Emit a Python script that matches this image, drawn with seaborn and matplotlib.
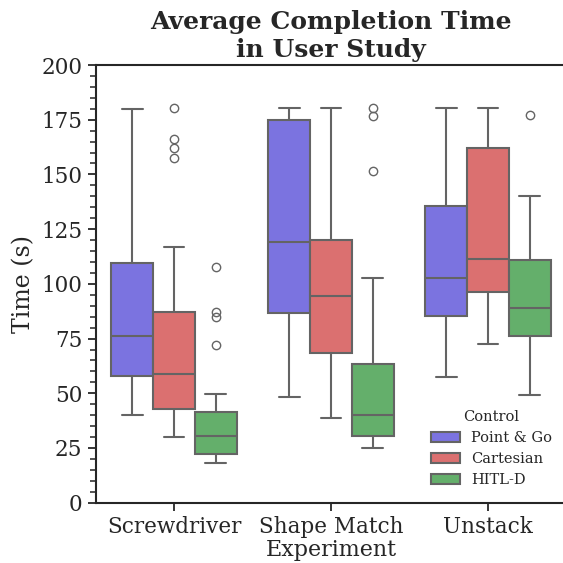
import matplotlib
matplotlib.use("Agg")
import matplotlib.pyplot as plt
from matplotlib.ticker import MultipleLocator
import pandas as pd
import seaborn as sns

experiments = ["Screwdriver", "Shape Match", "Unstack"]
controls = ["Point & Go", "Cartesian", "HITL-D"]
colors = ["#7B73E0", "#DB7070", "#64AF6B"]

# completion times (s) per experiment / control
screw_point = [40, 47, 53, 58, 64, 70, 76, 85, 98, 109.7, 128, 150, 180]
screw_cart = [30, 33, 36, 38, 41, 43, 46, 50, 53, 56, 59, 63, 68, 74, 80, 87.3,
              116.8, 157.6, 161.9, 166.2, 180.2]
screw_hitl = [18.1, 19, 20, 21, 22, 22.4, 24, 26, 27.5, 29, 30.3, 32, 34, 36, 39,
              41.4, 49.7, 71.9, 85, 87.1, 107.7]
shape_point = [48.4, 62, 75, 86.7, 98, 110, 119, 132, 150, 175, 177, 178.5, 180.2]
shape_cart = [38.5, 50, 60, 68.2, 78, 87, 94.4, 102, 112, 120, 135, 155, 180.2]
shape_hitl = [25, 26.5, 28, 29.5, 30.5, 33, 35.5, 38, 39.9, 44, 50, 57, 63.2,
              102.7, 151.4, 176.7, 180.2]
unstack_point = [57.4, 70, 78, 85.1, 90, 96, 102.5, 110, 122, 135.4, 150, 165, 180.2]
unstack_cart = [72.5, 82, 90, 96.1, 100, 106, 111.3, 122, 140, 161.9, 170, 176, 180.2]
unstack_hitl = [49.4, 60, 70, 76.2, 80, 85, 88.8, 95, 102, 110.9, 125, 140.1, 177.1]

groups = {
    ("Screwdriver", "Point & Go"): screw_point,
    ("Screwdriver", "Cartesian"): screw_cart,
    ("Screwdriver", "HITL-D"): screw_hitl,
    ("Shape Match", "Point & Go"): shape_point,
    ("Shape Match", "Cartesian"): shape_cart,
    ("Shape Match", "HITL-D"): shape_hitl,
    ("Unstack", "Point & Go"): unstack_point,
    ("Unstack", "Cartesian"): unstack_cart,
    ("Unstack", "HITL-D"): unstack_hitl,
}

rows = []
for (exp, ctrl), vals in groups.items():
    for v in vals:
        rows.append({"Experiment": exp, "Control": ctrl, "Time": v})
df = pd.DataFrame(rows)

sns.set_style("ticks")
plt.rcParams["font.family"] = ["DejaVu Serif"]

fig = plt.figure(figsize=(5.63, 5.63), dpi=100)
ax = fig.add_axes([95.5 / 563, 60.3 / 563, 471 / 563, 437.7 / 563])

sns.boxplot(data=df, x="Experiment", y="Time", hue="Control",
            order=experiments, hue_order=controls, palette=colors,
            saturation=1, linewidth=1.5, linecolor="#646464", fliersize=6, ax=ax)

ax.set_ylim(0, 200)
ax.set_xlim(-0.5, 2.5)
ax.yaxis.set_major_locator(MultipleLocator(25))
ax.yaxis.set_minor_locator(MultipleLocator(5))
ax.tick_params(axis="both", which="major", labelsize=15.5, length=6, width=1.3)
ax.tick_params(axis="y", which="minor", length=4, width=1.1)
for s in ["left", "bottom", "top"]:
    ax.spines[s].set_linewidth(1.5)
ax.spines["right"].set_visible(False)

ax.set_title("Average Completion Time\nin User Study", fontsize=18, fontweight="bold")
ax.set_xlabel("Experiment", fontsize=16, labelpad=1)
ax.set_ylabel("Time (s)", fontsize=17)

ax.legend(title="Control", loc="lower right", frameon=False, fontsize=10.5,
          title_fontsize=10.5, bbox_to_anchor=(0.998, 0.005))

fig.savefig("out.png", dpi=100)
